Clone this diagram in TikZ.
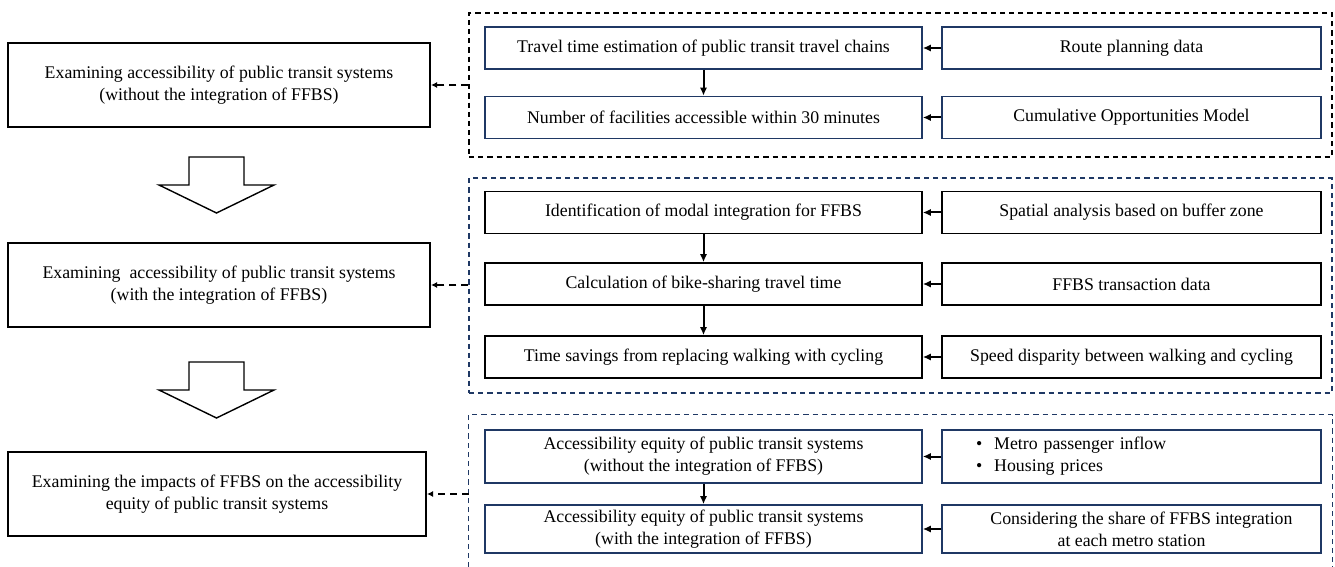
\documentclass[tikz,border=0pt]{standalone}
\usepackage{fontspec}
\setmainfont{Liberation Serif}
\usetikzlibrary{arrows.meta}
\definecolor{navyline}{RGB}{31,56,100}
\def\hollowarrow#1{\draw[hollow] (189,#1) -- (244,#1) -- (244,#1+28) -- (274,#1+28) -- (216.5,#1+56) -- (159,#1+28) -- (189,#1+28) -- cycle;}
\tikzset{
  txt/.style={font=\fontsize{8.9}{11}\selectfont, align=center, inner sep=0pt},
  mainbox/.style={txt, draw=black, line width=1pt, minimum width=211pt, minimum height=42pt},
  stepbox/.style={txt, draw=navyline, line width=0.8pt, minimum height=21pt},
  stepblack/.style={stepbox, draw=black},
  colA/.style={minimum width=218.5pt},
  colB/.style={minimum width=189.5pt},
  groupbox/.style={draw=black, line width=0.6pt, dash pattern=on 2.6pt off 2pt, inner sep=0pt},
  groupnavy/.style={groupbox, draw=navyline},
  flow/.style={line width=1pt, -{Latex[length=4pt,width=3.6pt]}},
  dasharrow/.style={line width=1.2pt, dash pattern=on 3.5pt off 2.5pt, -{Latex[length=3pt,width=3pt]}},
  hollow/.style={draw=black, line width=0.7pt, fill=white},
}
\begin{document}
\begin{tikzpicture}[x=0.5pt, y=-0.5pt]
  %%%%% FRAME %%%%%
  \useasboundingbox (0,0) rectangle (1335,567);

  %%%%% LEFT COLUMN %%%%%
  \node[mainbox] (l1) at (219,85) {Examining accessibility of public transit systems\\(without the integration of FFBS)};
  \node[mainbox] (l2) at (219,285) {Examining\ \ accessibility of public transit systems\\(with the integration of FFBS)};
  \node[mainbox, minimum width=209pt] (l3) at (217,494) {Examining the impacts of FFBS on the accessibility\\equity of public transit systems};

  \hollowarrow{157}
  \hollowarrow{362}

  %%%%% GROUP 1 %%%%%
  \node[groupbox, minimum width=431.5pt, minimum height=72pt] (d1) at (900.5,85) {};
  \node[stepbox, colA] (a11) at (703.5,48) {Travel time estimation of public transit travel chains};
  \node[stepbox, colA] (a12) at (703.5,117.5) {Number of facilities accessible within 30 minutes};
  \node[stepbox, colB] (b11) at (1131.5,48) {Route planning data};
  \node[stepbox, colB] (b12) at (1131.5,117.5) {Cumulative Opportunities Model};

  \draw[flow] (a11) -- (a12);
  \draw[flow] (b11) -- (a11);
  \draw[flow] (b12) -- (a12);
  \draw[dasharrow] (l1.east -| d1.west) -- (l1.east);

  %%%%% GROUP 2 %%%%%
  \node[groupnavy, minimum width=431.5pt, minimum height=107.5pt] (d2) at (900.5,285.5) {};
  \node[stepblack, colA] (a21) at (703.5,212.5) {Identification of modal integration for FFBS};
  \node[stepblack, colA] (a22) at (703.5,284) {Calculation of bike-sharing travel time};
  \node[stepblack, colA] (a23) at (703.5,357) {Time savings from replacing walking with cycling};
  \node[stepblack, colB] (b21) at (1131.5,212.5) {Spatial analysis based on buffer zone};
  \node[stepblack, colB] (b22) at (1131.5,284) {FFBS transaction data};
  \node[stepblack, colB] (b23) at (1131.5,357) {Speed disparity between walking and cycling};

  \draw[flow] (a21) -- (a22);
  \draw[flow] (a22) -- (a23);
  \draw[flow] (b21) -- (a21);
  \draw[flow] (b22) -- (a22);
  \draw[flow] (b23) -- (a23);
  \draw[dasharrow] (l2.east -| d2.west) -- (l2.east);

  %%%%% GROUP 3 %%%%%
  \node[minimum width=431.5pt, minimum height=76pt, inner sep=0pt] (d3) at (900.5,491) {};
  \draw[groupnavy] (d3.south west) -- (d3.north west) -- (d3.north east) -- (d3.south east);
  \node[stepbox, colA, minimum height=26.5pt] (a31) at (703.5,456.5) {Accessibility equity of public transit systems\\(without the integration of FFBS)};
  \node[stepbox, colA, minimum height=24pt] (a32) at (703.5,529) {Accessibility equity of public transit systems\\(with the integration of FFBS)};
  \node[stepbox, colB, minimum height=26.5pt, text width=189.5pt, align=left] (b31) at (1131.5,456.5) {\hspace*{17pt}\textbullet\hspace{6pt}Metro passenger inflow\\\hspace*{17pt}\textbullet\hspace{6pt}Housing prices};
  \node[stepbox, colB, minimum height=24pt] (b32) at (1131.5,529) {\hspace*{10pt}Considering the share of FFBS integration\\at each metro station};

  \draw[flow] (a31) -- (a32);
  \draw[flow] (b31) -- (a31);
  \draw[flow] (b32) -- (a32);
  \draw[dasharrow] (l3.east -| d3.west) -- (l3.east);
\end{tikzpicture}
\end{document}
